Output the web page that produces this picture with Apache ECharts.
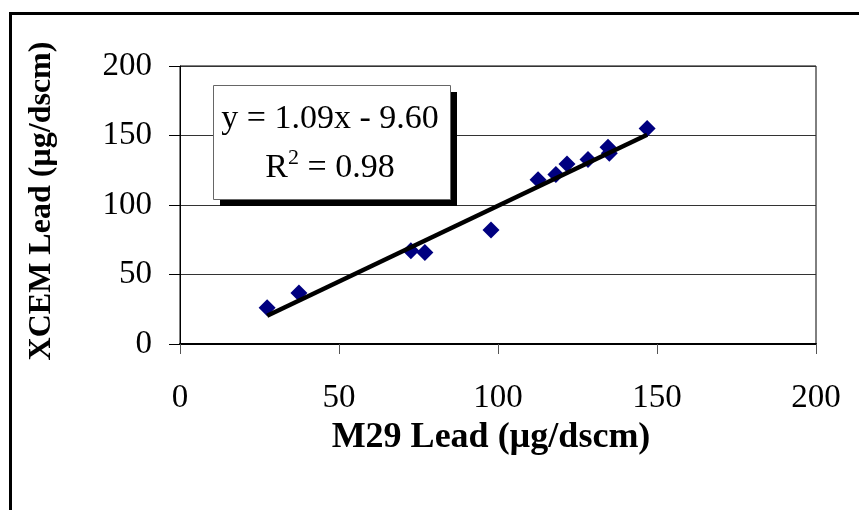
<!DOCTYPE html>
<html>
<head>
<meta charset="utf-8">
<script src="https://cdn.jsdelivr.net/npm/echarts@6/dist/echarts.min.js"></script>
<style>html,body{margin:0;padding:0;background:#fff;}#c{width:859px;height:510px;}</style>
</head>
<body>
<div id="c"></div>
<script>
const m29Lead = [27.4, 37.4, 72.6, 77.0, 97.8, 112.6, 118.2, 121.7, 128.3, 134.6, 135.0, 146.9];
const xcemLead = [26.0, 36.7, 67.0, 65.8, 82.0, 118.2, 122.0, 129.5, 132.8, 141.5, 137.2, 155.0];
const trendX = [27.4, 146.9];
const trendY = [20.3, 150.5];
const xTicks = [0, 50, 100, 150, 200];
const yTicks = [0, 50, 100, 150, 200];
const eqLine = 'y = 1.09x - 9.60';
const r2Value = '0.98';

const FONT = 'Liberation Serif';
const chart = echarts.init(document.getElementById('c'));
chart.setOption({
  animation: false,
  backgroundColor: '#fff',
  grid: { left: 180, right: 43, top: 66, bottom: 166, show: true, borderColor: '#000', borderWidth: 1, backgroundColor: 'transparent' },
  xAxis: {
    type: 'value', min: xTicks[0], max: xTicks[xTicks.length - 1], interval: 50,
    name: 'M29 Lead (µg/dscm)', nameLocation: 'middle', nameGap: 74,
    nameTextStyle: { fontFamily: FONT, fontSize: 36, fontWeight: 'bold', color: '#000', padding: [0, 14, 0, 0] },
    axisLine: { show: true, onZero: false, lineStyle: { color: '#000', width: 2 } },
    axisTick: { show: true, length: 10, lineStyle: { color: '#555', width: 1 } },
    axisLabel: { fontFamily: FONT, fontSize: 33, color: '#000', margin: 38 },
    splitLine: { show: false }
  },
  yAxis: {
    type: 'value', min: yTicks[0], max: yTicks[yTicks.length - 1], interval: 50,
    name: 'XCEM Lead (µg/dscm)', nameLocation: 'middle', nameGap: 122, nameRotate: 90,
    nameTextStyle: { fontFamily: FONT, fontSize: 32, fontWeight: 'bold', color: '#000', padding: [0, 0, 0, 8] },
    axisLine: { show: true, onZero: false, lineStyle: { color: '#000', width: 1 } },
    axisTick: { show: true, length: 11, lineStyle: { color: '#000', width: 1 } },
    axisLabel: { fontFamily: FONT, fontSize: 33, color: '#000', margin: 28 },
    splitLine: { show: true, lineStyle: { color: '#333', width: 1 } }
  },
  series: [
    {
      type: 'scatter', symbol: 'diamond', symbolSize: 17,
      itemStyle: { color: '#000080', opacity: 1 },
      data: m29Lead.map((x, i) => [x, xcemLead[i]]), z: 2
    },
    {
      type: 'line', showSymbol: false, symbol: 'none',
      lineStyle: { color: '#000', width: 4.5 },
      data: trendX.map((x, i) => [x, trendY[i]]), z: 3
    }
  ],
  graphic: [
    { type: 'rect', left: 8, top: 11, shape: { width: 900, height: 600 }, style: { fill: 'none', stroke: '#000', lineWidth: 3 }, z: 10 },
    { type: 'rect', shape: { x: 220, y: 92, width: 237, height: 114 }, style: { fill: '#000' }, z: 20 },
    { type: 'rect', shape: { x: 213.5, y: 85.5, width: 237, height: 114 }, style: { fill: '#fff', stroke: '#666', lineWidth: 1 }, z: 21 },
    { type: 'text', x: 330, y: 119, style: { text: eqLine, fontFamily: FONT, fontSize: 34, fill: '#000', align: 'center', verticalAlign: 'middle' }, z: 22 },
    { type: 'text', x: 330, y: 166, style: {
        text: '{a|R}{s|2}{a| = ' + r2Value + '}', align: 'center', verticalAlign: 'middle',
        rich: {
          a: { fontFamily: FONT, fontSize: 34, fill: '#000', color: '#000', verticalAlign: 'bottom', lineHeight: 38 },
          s: { fontFamily: FONT, fontSize: 22, fill: '#000', color: '#000', verticalAlign: 'top', lineHeight: 38, padding: [0, 0, 15, 0] }
        }
      }, z: 22 }
  ]
});
</script>
</body>
</html>
